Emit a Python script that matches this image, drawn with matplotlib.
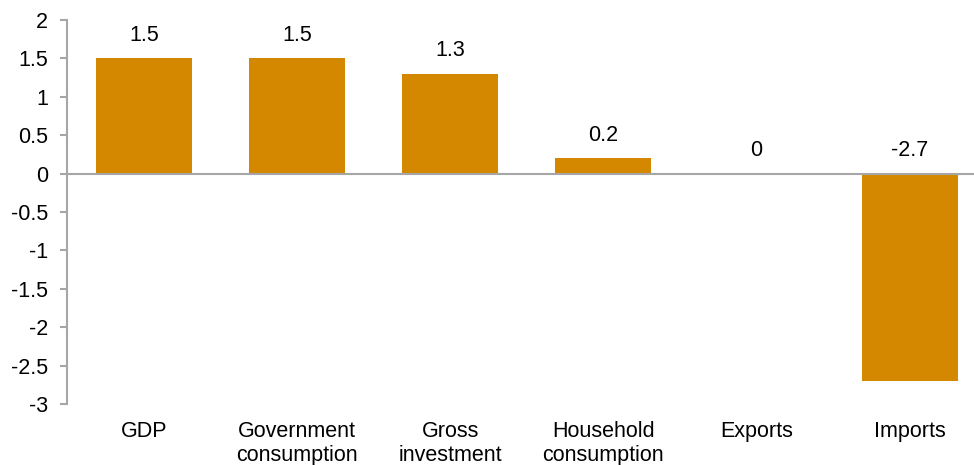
import matplotlib
matplotlib.use("Agg")
import matplotlib.pyplot as plt

categories = ["GDP", "Government\nconsumption", "Gross\ninvestment",
              "Household\nconsumption", "Exports", "Imports"]
values = [1.5, 1.5, 1.3, 0.2, 0.0, -2.7]
value_labels = ["1.5", "1.5", "1.3", "0.2", "0", "-2.7"]
yticks = [2, 1.5, 1, 0.5, 0, -0.5, -1, -1.5, -2, -2.5, -3]
ytick_labels = ["2", "1.5", "1", "0.5", "0", "-0.5", "-1", "-1.5", "-2", "-2.5", "-3"]

plt.rcParams["font.family"] = ["Liberation Sans", "DejaVu Sans"]
bar_color = "#D48800"
axis_grey = "#A6A6A6"
fs = 15.5

fig = plt.figure(figsize=(9.74, 4.65), dpi=100)
ax = fig.add_axes([0.0693, 0.131, 0.9307, 0.826])

x = list(range(len(categories)))
ax.bar(x, values, width=0.627, color=bar_color, zorder=2)
ax.axhline(0, color=axis_grey, linewidth=1.5, zorder=3)

for xi, v, lab in zip(x, values, value_labels):
    ax.annotate(lab, (xi, max(v, 0)), xytext=(0, 9), textcoords="offset points",
                ha="center", va="bottom", fontsize=fs, color="#000000")

# the last category sits partly past the right edge of the figure
ax.set_xlim(-0.5, len(categories) - 0.58)
ax.set_ylim(-3, 2)
ax.set_yticks(yticks)
ax.set_yticklabels(ytick_labels, fontsize=fs)
ax.set_xticks(x)
ax.set_xticklabels(categories, fontsize=fs, linespacing=1.15)
ax.tick_params(axis="x", length=0, pad=12.5)
ax.tick_params(axis="y", length=5, width=1.5, color=axis_grey, pad=9)

for side in ["top", "right", "bottom"]:
    ax.spines[side].set_visible(False)
ax.spines["left"].set_color(axis_grey)
ax.spines["left"].set_linewidth(1.5)

fig.savefig("out.png", dpi=100)
